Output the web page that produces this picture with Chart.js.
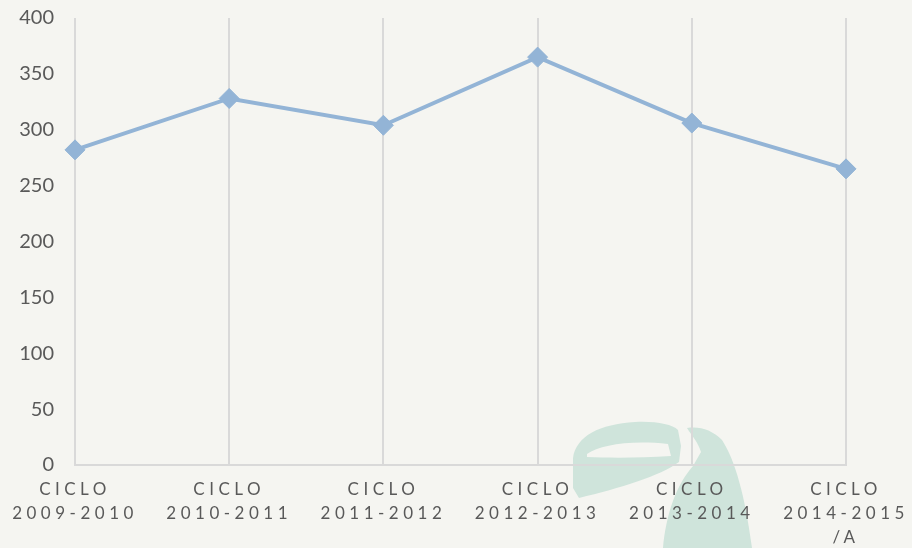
<!DOCTYPE html>
<html>
<head>
<meta charset="utf-8">
<script src="https://cdn.jsdelivr.net/npm/chart.js@4/dist/chart.umd.min.js"></script>
<style>
  html, body { margin: 0; padding: 0; background: #f5f5f1; }
  #wrap { width: 912px; height: 548px; }
</style>
</head>
<body>
<div id="wrap"><canvas id="c" width="912" height="548"></canvas></div>
<script>
const categories = [
  ["CICLO", "2009-2010"],
  ["CICLO", "2010-2011"],
  ["CICLO", "2011-2012"],
  ["CICLO", "2012-2013"],
  ["CICLO", "2013-2014"],
  ["CICLO", "2014-2015", "/A"]
];
const values = [282, 328, 304, 365, 306, 265];
const yMin = 0, yMax = 400, yStep = 50;

const bgPlugin = {
  id: 'bg',
  beforeDraw(chart) {
    const ctx = chart.ctx;
    ctx.save();
    ctx.fillStyle = '#f5f5f1';
    ctx.fillRect(0, 0, chart.width, chart.height);
    // faint watermark logo
    ctx.fillStyle = 'rgb(207,228,219)';
    ctx.beginPath();
    ctx.moveTo(573, 458);
    ctx.bezierCurveTo(576, 436, 600, 424, 635, 422);
    ctx.bezierCurveTo(655, 421, 672, 424, 678, 430);
    ctx.lineTo(681, 446);
    ctx.lineTo(679, 462);
    ctx.bezierCurveTo(660, 476, 620, 488, 579, 498);
    ctx.lineTo(573, 488);
    ctx.closePath();
    ctx.moveTo(587, 454);
    ctx.bezierCurveTo(600, 445, 630, 440, 668, 444);
    ctx.lineTo(671, 456);
    ctx.bezierCurveTo(640, 458, 610, 458, 587, 457);
    ctx.closePath();
    ctx.fill('evenodd');
    ctx.beginPath();
    ctx.moveTo(687, 428);
    ctx.bezierCurveTo(700, 426, 712, 430, 722, 440);
    ctx.bezierCurveTo(735, 460, 745, 495, 752, 548);
    ctx.lineTo(663, 548);
    ctx.bezierCurveTo(666, 515, 676, 485, 693, 466);
    ctx.lineTo(701, 452);
    ctx.bezierCurveTo(698, 442, 692, 436, 687, 428);
    ctx.closePath();
    ctx.fill();
    ctx.restore();

    const xs = chart.scales.x;
    if (xs && !xs.__ls) {
      xs.__ls = true;
      const orig = xs.drawLabels;
      xs.drawLabels = function (area) {
        const c = this.ctx;
        c.save();
        c.letterSpacing = '4.5px';
        orig.call(this, area);
        c.restore();
      };
    }
  }
};

new Chart(document.getElementById('c'), {
  type: 'line',
  data: {
    labels: categories,
    datasets: [{
      data: values,
      borderColor: '#93b4d6',
      backgroundColor: '#93b4d6',
      borderWidth: 4,
      pointStyle: 'rectRot',
      pointRadius: 10,
      pointHoverRadius: 10,
      pointBorderWidth: 1,
      pointBackgroundColor: '#93b4d6',
      pointBorderColor: '#93b4d6',
      tension: 0,
      clip: false
    }]
  },
  options: {
    responsive: false,
    animation: false,
    devicePixelRatio: 1,
    layout: { padding: { left: 0, right: 66, top: 18, bottom: 0 } },
    plugins: { legend: { display: false }, tooltip: { enabled: false } },
    scales: {
      x: {
        offset: false,
        grid: { display: true, color: '#d9d9d9', lineWidth: 2, drawTicks: false },
        border: { display: true, color: '#d9d9d9', width: 2 },
        ticks: {
          autoSkip: false, maxRotation: 0, minRotation: 0,
          color: '#595959',
          padding: 13,
          font: { family: 'Lato', size: 17, lineHeight: 1.4 }
        },
        afterFit(scale) { scale.height = 83; scale.paddingLeft = 0; scale.paddingRight = 0; }
      },
      y: {
        min: yMin, max: yMax,
        grid: { display: false, drawTicks: false },
        border: { display: false },
        ticks: {
          stepSize: yStep,
          color: '#595959',
          padding: 21,
          font: { family: 'Lato', size: 20 }
        },
        afterFit(scale) { scale.width = 75; scale.paddingTop = 0; scale.paddingBottom = 0; }
      }
    }
  },
  plugins: [bgPlugin]
});
</script>
</body>
</html>
